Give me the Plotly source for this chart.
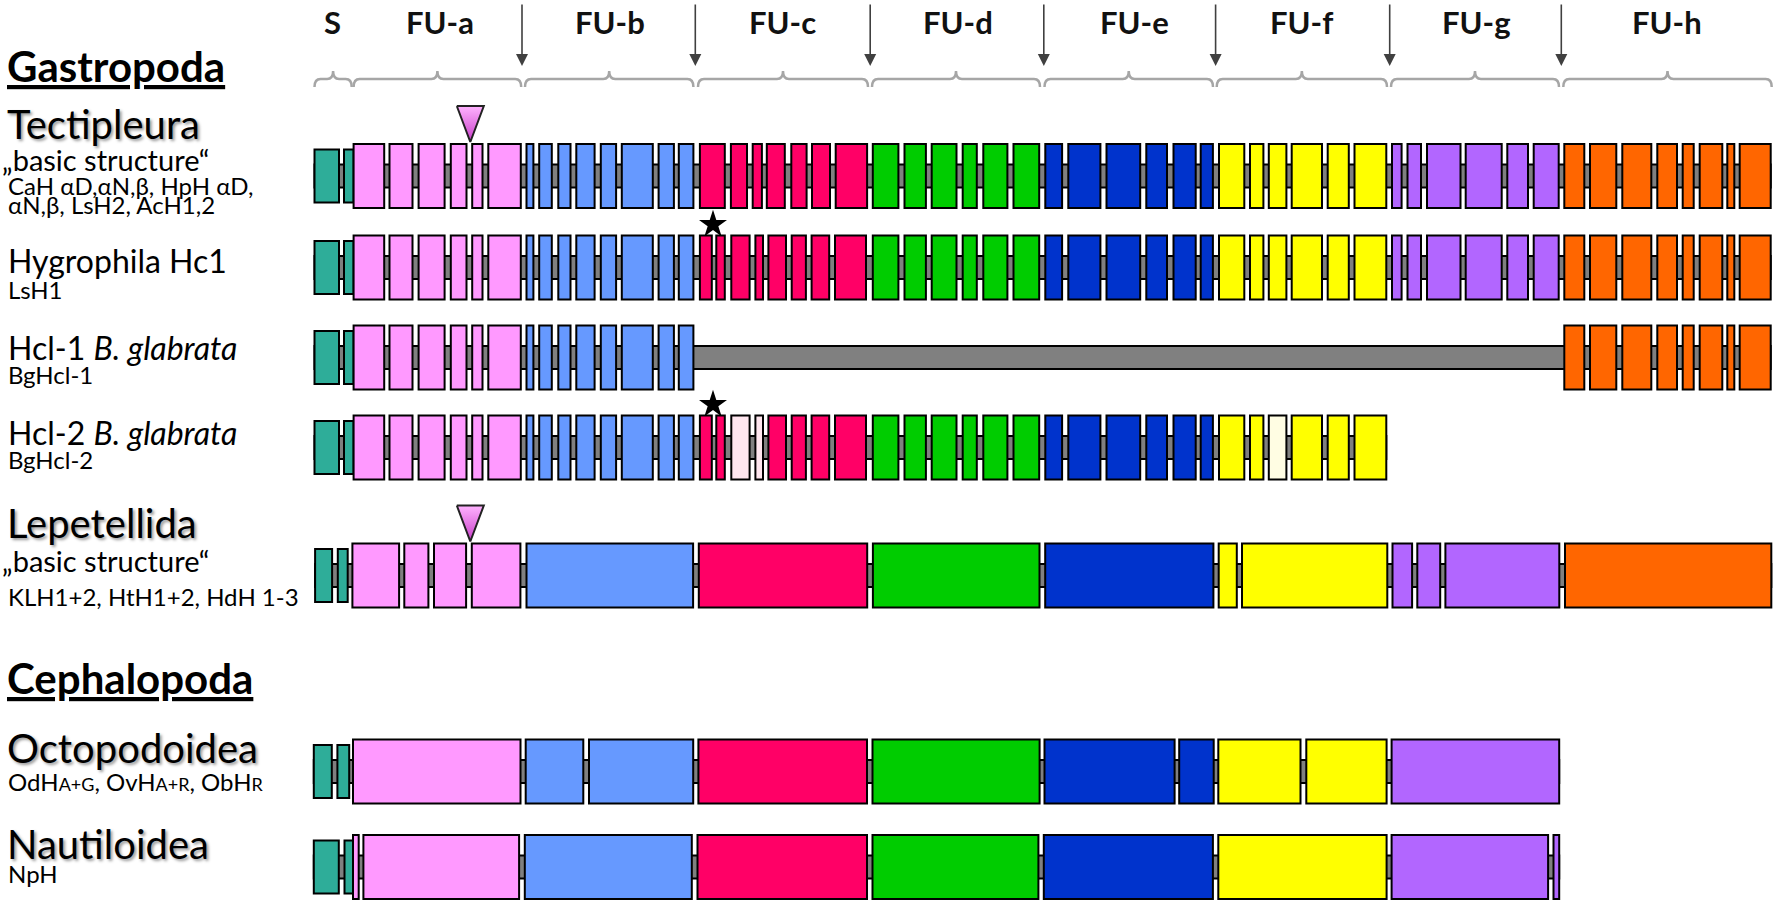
"""
Exon-intron structure of molluscan haemocyanin genes, drawn with Plotly.
"""
import plotly.graph_objects as go

COLORS = {
    "S": "#2EAD99",
    "a": "#FF99FF",
    "b": "#6699FF",
    "c": "#FF0066",
    "d": "#00CC00",
    "e": "#0033CC",
    "f": "#FFFF00",
    "g": "#B266FF",
    "h": "#FF6600",
    "c_pale": "#FFE6EF",
    "f_pale": "#FFFDE3",
    "intron": "#808080",
    "brace": "#A6A6A6",
    "arrow": "#404040",
    "text": "#000000",
}
FONT = "Lato, 'Open Sans', sans-serif"

# ---- header: functional units ----
FU_LABELS = ["S", "FU-a", "FU-b", "FU-c", "FU-d", "FU-e", "FU-f", "FU-g", "FU-h"]
FU_SPANS = [(314.5, 351.7), (353.6, 521.2), (525, 693.4), (698, 868), (872, 1040),
            (1044.5, 1213), (1216.7, 1387), (1391, 1559), (1563.3, 1771.7)]
FU_LABEL_X = [332.5, 439.7, 610, 782, 958, 1134.5, 1301, 1476, 1666.7]
CLEAVAGE_X = [522, 695.3, 870.2, 1043.8, 1215.6, 1389.7, 1561.3]

# ---- exon boundaries (drawing units along the gene) ----
# Tectipleura basic structure
S_TECT = [(314.5, 339), (344, 353.6)]
A_TECT = [(353.6, 384.2), (389.5, 412.5), (418.6, 444.6), (450.8, 466.5), (472.2, 482.5), (488.3, 520.8)]
B_TECT = [(526.5, 533.4), (539.2, 551.8), (558.3, 570.5), (576.3, 594.6), (600.8, 616.1),
          (621.8, 652.8), (658.6, 673.9), (678.8, 693.4)]
C_TECT = [(699.9, 724.8), (730.9, 747), (752.7, 761.9), (766.8, 784.8), (791.3, 806.6), (812, 830), (835.7, 867.1)]
D_TECT = [(872.8, 898.4), (904.5, 925.9), (931.7, 956.5), (962.7, 976.8), (983.3, 1007.4), (1013.5, 1039.2)]
E_TECT = [(1045.3, 1062.1), (1068.3, 1100.4), (1106.5, 1140.2), (1146.3, 1167), (1173.5, 1195.7), (1200.7, 1212.9)]
F_TECT = [(1219, 1244.3), (1250, 1263.4), (1268.8, 1286.4), (1291.7, 1322), (1327.7, 1348.8), (1354.5, 1386.3)]
G_TECT = [(1392, 1401.6), (1407.5, 1421), (1427, 1460.5), (1465.7, 1501.7), (1507.3, 1528), (1533.7, 1558.7)]
H_TECT = [(1564.3, 1584.3), (1590, 1616.3), (1622.3, 1651.3), (1657.3, 1677), (1682.7, 1693.7),
          (1699.7, 1722.3), (1727.3, 1734.3), (1739.7, 1770.7)]

# Hygrophila / B. glabrata: FU-c split differently
C_HYGRO = [(699.9, 711.8), (716.3, 724.8), (731.3, 749.6), (755.4, 763), (768.4, 786),
           (791.7, 805.9), (811.6, 829.2), (835, 866)]
C_HCL2_PALE = [False, False, True, True, False, False, False, False]
F_HCL2_PALE = [False, False, True, False, False, False]

# Lepetellida basic structure
S_LEPE = [(315.1, 332.1), (337.8, 347.7)]
A_LEPE = [(352.4, 399.1), (404.3, 428.4), (434, 466.1), (471.8, 520.4)]
B_LEPE = [(526.5, 693.1)]
C_LEPE = [(698.8, 867.2)]
D_LEPE = [(872.9, 1039.5)]
E_LEPE = [(1045.2, 1213.4)]
F_LEPE = [(1218.7, 1236.8), (1242, 1387.3)]
G_LEPE = [(1392.5, 1412.1), (1417.3, 1440.2), (1445.4, 1559.3)]
H_LEPE = [(1565, 1771.3)]

# Octopodoidea
S_OCTO = [(313.8, 331.8), (337.4, 349.2)]
A_OCTO = [(353, 520.5)]
B_OCTO = [(525.7, 583.3), (589, 693.2)]
C_OCTO = [(698.4, 867)]
D_OCTO = [(872.5, 1039.6)]
E_OCTO = [(1044.5, 1174.6), (1179.2, 1213.7)]
F_OCTO = [(1218.3, 1300.5), (1306.3, 1386.6)]
G_OCTO = [(1391.6, 1559.2)]

# Nautiloidea
S_NAUT = [(313.8, 338.8), (344.5, 353)]
A_NAUT = [(353, 358.7), (363.4, 519.1)]
B_NAUT = [(524.8, 691.8)]
C_NAUT = [(697.5, 867)]
D_NAUT = [(872.5, 1038.4)]
E_NAUT = [(1043.8, 1212.9)]
F_NAUT = [(1218.3, 1386.6)]
G_NAUT = [(1391.6, 1548.1), (1553.5, 1559.2)]

# intron-gain markers (triangles) and star markers
TRIANGLE_X = [470.3, 470.3]
STAR_X = [713, 713]

# ---- layout of the rows ----
ROW_Y = [176, 267.5, 357.5, 447.5, 575.5, 771.5, 867]
ROWS = [
    [("S", S_TECT), ("a", A_TECT), ("b", B_TECT), ("c", C_TECT), ("d", D_TECT),
     ("e", E_TECT), ("f", F_TECT), ("g", G_TECT), ("h", H_TECT)],
    [("S", S_TECT), ("a", A_TECT), ("b", B_TECT), ("c", C_HYGRO), ("d", D_TECT),
     ("e", E_TECT), ("f", F_TECT), ("g", G_TECT), ("h", H_TECT)],
    [("S", S_TECT), ("a", A_TECT), ("b", B_TECT), ("h", H_TECT)],
    [("S", S_TECT), ("a", A_TECT), ("b", B_TECT), ("c", C_HYGRO, C_HCL2_PALE), ("d", D_TECT),
     ("e", E_TECT), ("f", F_TECT, F_HCL2_PALE)],
    [("S", S_LEPE), ("a", A_LEPE), ("b", B_LEPE), ("c", C_LEPE), ("d", D_LEPE),
     ("e", E_LEPE), ("f", F_LEPE), ("g", G_LEPE), ("h", H_LEPE)],
    [("S", S_OCTO), ("a", A_OCTO), ("b", B_OCTO), ("c", C_OCTO), ("d", D_OCTO),
     ("e", E_OCTO), ("f", F_OCTO), ("g", G_OCTO)],
    [("S", S_NAUT), ("a", A_NAUT), ("b", B_NAUT), ("c", C_NAUT), ("d", D_NAUT),
     ("e", E_NAUT), ("f", F_NAUT), ("g", G_NAUT)],
]
TRIANGLE_ROWS = [0, 4]
STAR_ROWS = [1, 3]

EXON_H = 32
SIGNAL_H = 26.5
INTRON_H = 11.5

# left-hand labels: (text, y, style)
LABELS = [
    ("<b><u>Gastropoda</u></b>", 66, "group"),
    ("Tectipleura", 124, "clade"),
    ("„basic structure“", 159, "basic"),
    ("CaH αD,αN,β, HpH αD,", 185, "small"),
    ("αN,β, LsH2, AcH1,2", 204, "small"),
    ("Hygrophila Hc1", 260, "name"),
    ("LsH1", 289, "small"),
    ("Hcl-1 <i>B. glabrata</i>", 347, "name"),
    ("BgHcl-1", 374, "small"),
    ("Hcl-2 <i>B. glabrata</i>", 432, "name"),
    ("BgHcl-2", 459, "small"),
    ("Lepetellida", 523, "clade"),
    ("„basic structure“", 560, "basic"),
    ("KLH1+2, HtH1+2, HdH 1-3", 596, "small"),
    ("<b><u>Cephalopoda</u></b>", 678, "group"),
    ("Octopodoidea", 748, "clade"),
    ("OdH<span style='font-size:18px'>A+G</span>, OvH<span style='font-size:18px'>A+R</span>, "
     "ObH<span style='font-size:18px'>R</span>", 781, "small"),
    ("Nautiloidea", 844, "clade"),
    ("NpH", 873, "small"),
]
LABEL_STYLE = {
    "group": dict(size=42, x=5, shadow="none"),
    "clade": dict(size=40, x=5, shadow="2px 2px 3px #999999"),
    "basic": dict(size=29, x=0, shadow="none"),
    "name": dict(size=32, x=6, shadow="none"),
    "small": dict(size=24, x=6, shadow="none"),
}


def brace_path(x0, x1, y_end=87, y_line=79, y_peak=71, r=6):
    xm = (x0 + x1) / 2
    return (f"M {x0},{y_end} Q {x0},{y_line} {x0 + r},{y_line} L {xm - r},{y_line} "
            f"Q {xm},{y_line} {xm},{y_peak} Q {xm},{y_line} {xm + r},{y_line} "
            f"L {x1 - r},{y_line} Q {x1},{y_line} {x1},{y_end}")


fig = go.Figure()
shapes = []
annotations = []

# gene rows
for row, yc in zip(ROWS, ROW_Y):
    starts = [ex[0] for part in row for ex in part[1]]
    ends = [ex[1] for part in row for ex in part[1]]
    shapes.append(dict(type="rect", xref="x", yref="y", x0=min(starts), x1=max(ends),
                       y0=yc - INTRON_H, y1=yc + INTRON_H, fillcolor=COLORS["intron"],
                       line=dict(color="black", width=2), layer="above"))
    for part in row:
        unit, exons = part[0], part[1]
        pale = part[2] if len(part) > 2 else [False] * len(exons)
        h = SIGNAL_H if unit == "S" else EXON_H
        for (x0, x1), p in zip(exons, pale):
            color = COLORS[unit + "_pale"] if p else COLORS[unit]
            shapes.append(dict(type="rect", xref="x", yref="y", x0=x0, x1=x1,
                               y0=yc - h, y1=yc + h, fillcolor=color,
                               line=dict(color="black", width=2), layer="above"))

# header braces
for x0, x1 in FU_SPANS:
    shapes.append(dict(type="path", xref="x", yref="y", path=brace_path(x0, x1),
                       line=dict(color=COLORS["brace"], width=2.5)))

# header labels
for lab, x in zip(FU_LABELS, FU_LABEL_X):
    annotations.append(dict(x=x, y=22, xref="x", yref="y", text=f"<b>{lab}</b>",
                            showarrow=False, font=dict(family=FONT, size=31, color="#111111")))

# cleavage arrows
for x in CLEAVAGE_X:
    annotations.append(dict(x=x, y=66, ax=x, ay=3, xref="x", yref="y", axref="x", ayref="y",
                            text="", showarrow=True, arrowhead=2, arrowsize=1.5,
                            arrowwidth=1.6, arrowcolor=COLORS["arrow"]))

# left labels
for text, y, style in LABELS:
    st = LABEL_STYLE[style]
    annotations.append(dict(x=st["x"], y=y, xref="x", yref="y", text=text, showarrow=False,
                            xanchor="left", yanchor="middle",
                            font=dict(family=FONT, size=st["size"], color=COLORS["text"],
                                      shadow=st["shadow"])))

# triangles (intron positions)
for r, x in zip(TRIANGLE_ROWS, TRIANGLE_X):
    top = ROW_Y[r] - EXON_H - 38
    tip = ROW_Y[r] - EXON_H - 2
    fig.add_trace(go.Scatter(
        x=[x - 13.5, x + 13.5, x, x - 13.5], y=[top, top, tip, top],
        mode="lines", fill="toself",
        fillgradient=dict(type="vertical", colorscale=[[0, "#C83CC8"], [1, "#FFB3FF"]]),
        line=dict(color="#222222", width=2), hoverinfo="skip", showlegend=False))

# stars
fig.add_trace(go.Scatter(
    x=STAR_X, y=[ROW_Y[r] - EXON_H - 11 for r in STAR_ROWS], mode="markers",
    marker=dict(symbol="star", size=21, color="black"), hoverinfo="skip", showlegend=False))

fig.update_layout(
    width=1777, height=900,
    margin=dict(l=0, r=0, t=0, b=0),
    paper_bgcolor="white", plot_bgcolor="white",
    shapes=shapes, annotations=annotations,
    xaxis=dict(range=[0, 1777], visible=False, fixedrange=True),
    yaxis=dict(range=[900, 0], visible=False, fixedrange=True),
    showlegend=False,
)

fig.write_html("out.html", config={"displayModeBar": False},
               post_script="document.body.style.margin='0';document.body.style.overflow='hidden';")
